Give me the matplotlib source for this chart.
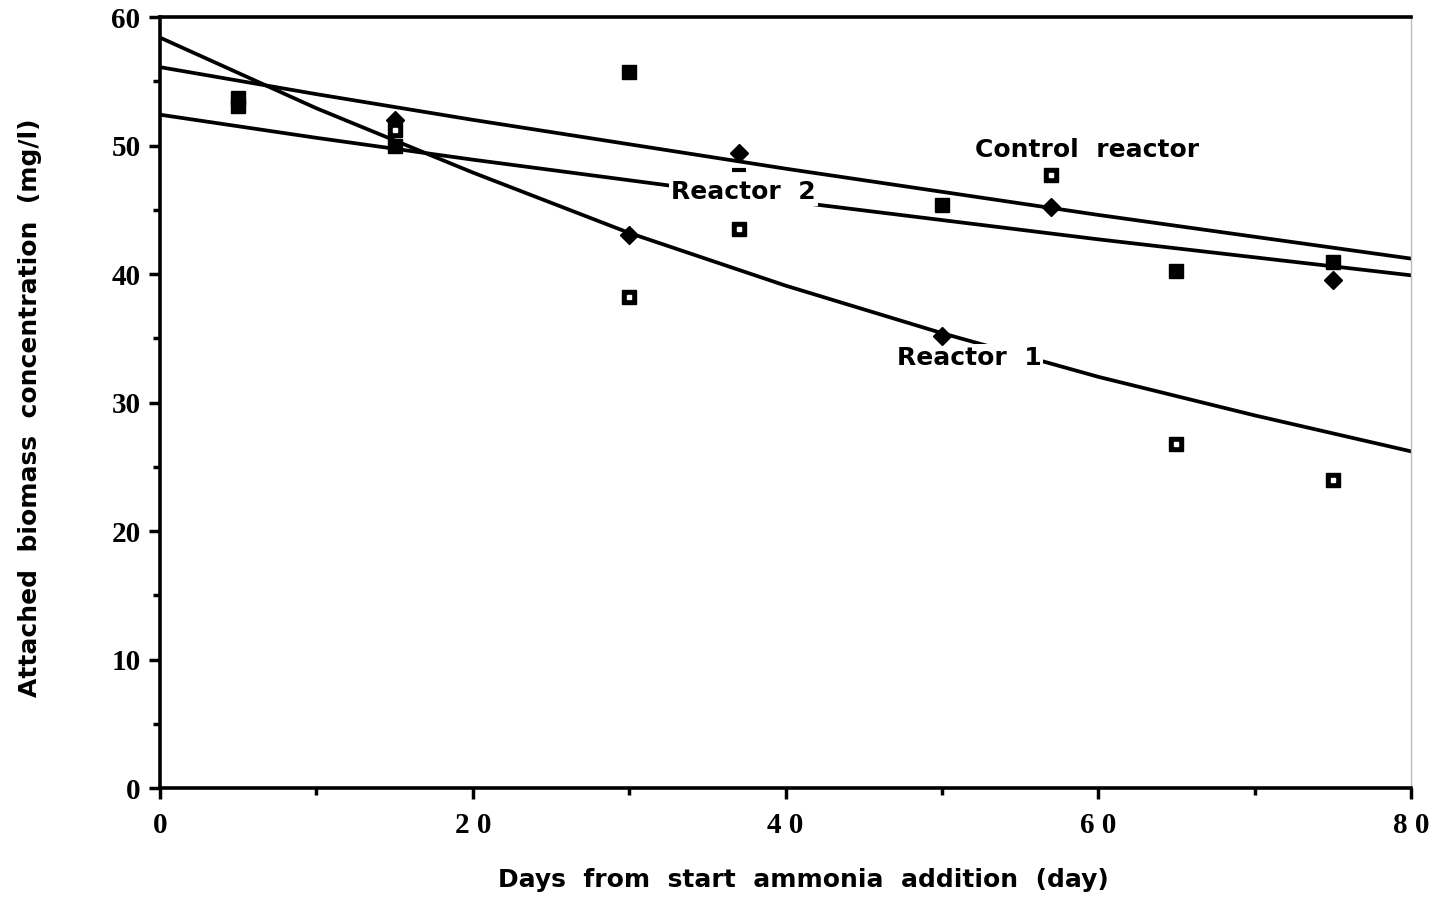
import matplotlib
matplotlib.use("Agg")
import matplotlib.pyplot as plt
from matplotlib.ticker import MultipleLocator

# ---- data ----
fit_days = [0, 10, 20, 30, 40, 50, 60, 70, 80]
control_fit = [56.1, 54.0, 52.0, 50.1, 48.2, 46.4, 44.6, 42.9, 41.2]
reactor2_fit = [52.4, 50.6, 48.9, 47.3, 45.7, 44.2, 42.7, 41.3, 39.9]
reactor1_fit = [58.4, 52.9, 47.9, 43.2, 39.1, 35.4, 32.0, 29.0, 26.2]

filled_sq_days = [5, 5, 15, 30, 50, 65, 75]
filled_sq_vals = [53.7, 53.1, 50.0, 55.7, 45.4, 40.2, 40.9]

dotted_sq_days = [15, 30, 37, 57, 65, 75]
dotted_sq_vals = [51.2, 38.2, 43.5, 47.7, 26.8, 24.0]

diamond_days = [15, 30, 37, 50, 57, 75]
diamond_vals = [52.0, 43.0, 49.4, 35.2, 45.2, 39.5]

dash_days = [37]
dash_vals = [48.1]

x_ticks = [0, 20, 40, 60, 80]
x_ticklabels = ["0", "2 0", "4 0", "6 0", "8 0"]
y_ticks = [0, 10, 20, 30, 40, 50, 60]

fig = plt.figure(figsize=(14.34, 8.97), dpi=100)
ax = fig.add_axes([0.1116, 0.1215, 0.8724, 0.8595])

lw = 2.7
ax.plot(fit_days, control_fit, color="black", lw=lw, zorder=2)
ax.plot(fit_days, reactor2_fit, color="black", lw=lw, zorder=2)
ax.plot(fit_days, reactor1_fit, color="black", lw=lw, zorder=2)

ax.plot(filled_sq_days, filled_sq_vals, ls="none", marker="s", ms=10,
        color="black", zorder=5)
ax.plot(dotted_sq_days, dotted_sq_vals, ls="none", marker="s", ms=10,
        color="black", zorder=5)
ax.plot(dotted_sq_days, dotted_sq_vals, ls="none", marker="s", ms=2.3,
        color="white", zorder=6)
ax.plot(diamond_days, diamond_vals, ls="none", marker="D", ms=9.5,
        color="black", zorder=5)
ax.plot(dash_days, dash_vals, ls="none", marker="_", ms=10, mew=3,
        color="black", zorder=5)

lab_font = dict(family="DejaVu Sans", weight="bold", fontsize=18,
                color="black")
box = dict(facecolor="white", edgecolor="none", pad=1.5)
ax.text(52.1, 49.65, "Control  reactor", ha="left", va="center", zorder=4,
        **lab_font)
ax.text(32.7, 46.4, "Reactor  2", ha="left", va="center", zorder=3,
        bbox=box, **lab_font)
ax.text(47.1, 33.5, "Reactor  1", ha="left", va="center", zorder=3,
        bbox=box, **lab_font)

ax.set_xlim(0, 80)
ax.set_ylim(0, 60)
ax.set_xticks(x_ticks)
ax.set_xticklabels(x_ticklabels)
ax.set_yticks(y_ticks)
ax.xaxis.set_minor_locator(MultipleLocator(10))
ax.yaxis.set_minor_locator(MultipleLocator(5))

ax.tick_params(axis="both", which="major", direction="out", length=8,
               width=2.5, color="black")
ax.tick_params(axis="both", which="minor", direction="out", length=5,
               width=2.5, color="black")
ax.tick_params(axis="x", pad=9)
ax.tick_params(axis="y", pad=6)
for lbl in ax.get_xticklabels() + ax.get_yticklabels():
    lbl.set_family("Liberation Serif")
    lbl.set_weight("bold")
    lbl.set_fontsize(21)

for side in ["left", "bottom", "top"]:
    ax.spines[side].set_linewidth(2.6)
    ax.spines[side].set_color("black")
ax.spines["right"].set_linewidth(1.0)
ax.spines["right"].set_color("#bbbbbb")

fig.text(803 / 1434, 1 - 880 / 897,
         "Days  from  start  ammonia  addition  (day)",
         family="DejaVu Sans", weight="bold", fontsize=18,
         ha="center", va="center")
fig.text(30 / 1434, 1 - 408 / 897,
         "Attached  biomass  concentration  (mg/l)",
         family="DejaVu Sans", weight="bold", fontsize=18,
         ha="center", va="center", rotation=90)

fig.savefig("out.png", dpi=100, facecolor="white")
